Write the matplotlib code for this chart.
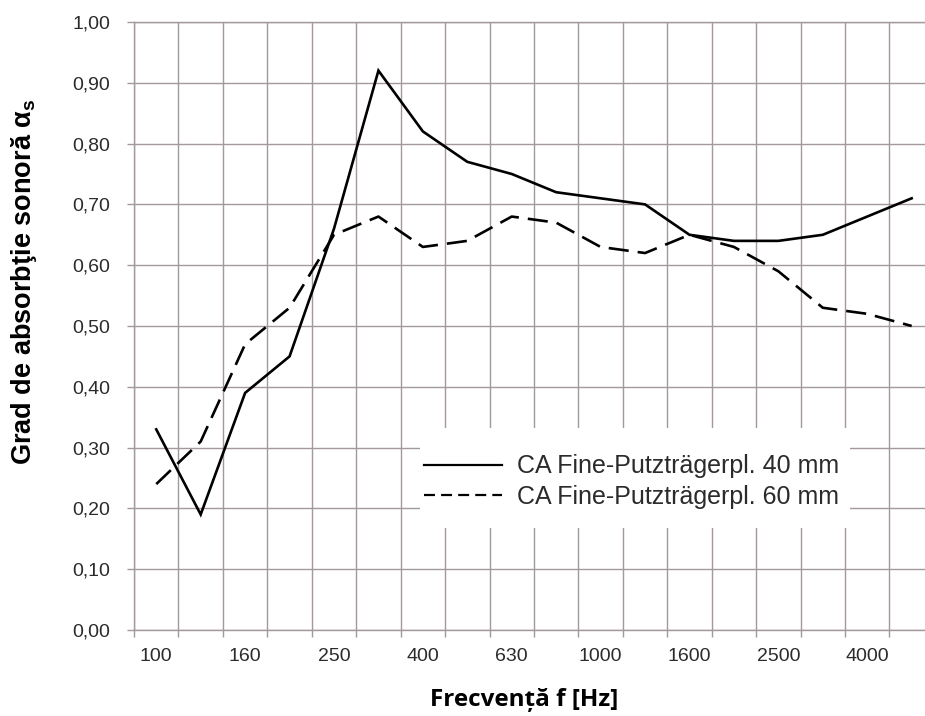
import numpy as np
import matplotlib.pyplot as plt
from matplotlib.lines import Line2D
from matplotlib.patches import Rectangle

plt.rcParams['lines.scale_dashes'] = False

# third-octave bands [Hz]
freqs = [100, 125, 160, 200, 250, 315, 400, 500, 630, 800,
         1000, 1250, 1600, 2000, 2500, 3150, 4000, 5000]
alpha_40 = [0.33, 0.19, 0.39, 0.45, 0.66, 0.92, 0.82, 0.77, 0.75, 0.72,
            0.71, 0.70, 0.65, 0.64, 0.64, 0.65, 0.68, 0.71]
alpha_60 = [0.24, 0.31, 0.47, 0.53, 0.65, 0.68, 0.63, 0.64, 0.68, 0.67,
            0.63, 0.62, 0.65, 0.63, 0.59, 0.53, 0.52, 0.50]
label_40 = "CA Fine-Putzträgerpl. 40 mm"
label_60 = "CA Fine-Putzträgerpl. 60 mm"
y_ticks = [0.0, 0.1, 0.2, 0.3, 0.4, 0.5, 0.6, 0.7, 0.8, 0.9, 1.0]

grid_col = '#a3989c'
txt_col = '#2b2b2b'

fig = plt.figure(figsize=(9.25, 7.16), dpi=100)
ax = fig.add_axes([0.1449, 0.1201, 0.8551, 0.8492])

x = np.arange(len(freqs))
ax.plot(x, alpha_40, color='black', lw=1.9, solid_joinstyle='miter', zorder=3)
ax.plot(x, alpha_60, color='black', lw=1.9, dashes=(14.5, 6.5), zorder=3)

ax.set_xlim(-0.5, 17.3)
ax.set_ylim(0, 1.0)

# labels every second band, grid at band borders
ax.set_xticks(x[::2])
ax.set_xticklabels([str(f) for f in freqs[::2]])
ax.set_xticks(np.arange(-0.5, 17, 1), minor=True)
ax.set_yticks(y_ticks)
ax.set_yticklabels([('%.2f' % v).replace('.', ',') for v in y_ticks])

ax.tick_params(axis='x', which='major', length=0, pad=13, labelsize=14, labelcolor=txt_col)
ax.tick_params(axis='x', which='minor', length=5, width=1, color=grid_col, direction='out')
ax.tick_params(axis='y', length=5, width=1, color=grid_col, pad=12, labelsize=14, labelcolor=txt_col)
for lab in ax.get_xticklabels() + ax.get_yticklabels():
    lab.set_fontfamily('Liberation Sans')

ax.grid(True, axis='x', which='minor', color=grid_col, lw=1)
ax.grid(True, axis='y', which='major', color=grid_col, lw=1)
ax.set_axisbelow(True)
for side in ['left', 'top', 'bottom']:
    ax.spines[side].set_color(grid_col)
    ax.spines[side].set_linewidth(1)
ax.spines['right'].set_visible(False)

ax.set_ylabel("Grad de absorbţie sonoră α$_\\mathregular{s}$", fontsize=19.5, fontweight='bold',
              family='Liberation Sans')
ax.yaxis.set_label_coords(-0.12, 0.572)
ax.set_xlabel("Frecvență f [Hz]", fontsize=17.5, fontweight='bold', family='Open Sans')
ax.xaxis.set_label_coords(0.493, -0.096)

# white block behind the legend
fig.patches.append(Rectangle((0.454, 0.263), 0.465, 0.139, transform=fig.transFigure,
                             facecolor='white', edgecolor='none', zorder=2))

handles = [Line2D([], [], color='black', lw=1.6),
           Line2D([], [], color='black', lw=1.6, dashes=(7.9, 4.4))]
leg = fig.legend(handles, [label_40, label_60], loc='center left',
                 bbox_to_anchor=(0.4584, 0.3275), frameon=False,
                 prop={'family': 'Liberation Sans', 'size': 18},
                 handlelength=3.1, handletextpad=0.62, labelspacing=0.25,
                 borderaxespad=0, borderpad=0)
leg.set_zorder(5)
for t in leg.get_texts():
    t.set_color(txt_col)

fig.savefig('out.png', dpi=100)
